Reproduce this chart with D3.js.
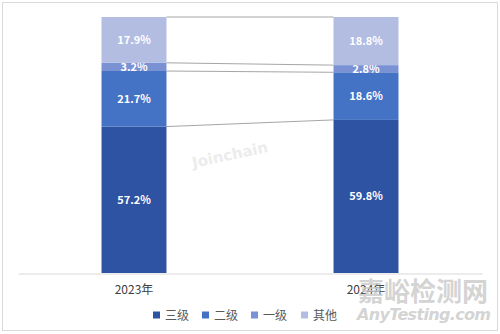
<!DOCTYPE html>
<html><head><meta charset="utf-8">
<script src="https://cdn.jsdelivr.net/npm/d3@7"></script>
<style>html,body{margin:0;padding:0;background:#fff;}svg{display:block;}</style>
</head><body>
<svg id="chart" width="500" height="334"></svg>
<script>
const categories = ["2023年", "2024年"];
const seriesNames = ["三级", "二级", "一级", "其他"];
const values三级 = [57.2, 59.8];
const values二级 = [21.7, 18.6];
const values一级 = [3.2, 2.8];
const values其他 = [17.9, 18.8];
const seriesValues = [values三级, values二级, values一级, values其他];
const colors = ["#2E53A2", "#4472C4", "#7A92D4", "#B3BDE1"];

const svg = d3.select("#chart");
const font = "'Microsoft YaHei','Noto Sans CJK SC','DejaVu Sans',sans-serif";

// outer border
svg.append("rect").attr("x", 2.5).attr("y", 2.5).attr("width", 495).attr("height", 328)
  .attr("fill", "#fff").attr("stroke", "#d9d9d9").attr("stroke-width", 1);

const rows = categories.map((c, i) => {
  const r = {cat: c};
  seriesNames.forEach((s, j) => r[s] = seriesValues[j][i]);
  return r;
});
const stacked = d3.stack().keys(seriesNames)(rows);

const x = d3.scaleBand().domain(categories).range([18, 482]).paddingInner(0.72).paddingOuter(0.36);
const y = d3.scaleLinear().domain([0, 100]).range([273, 17]);

// watermark Joinchain
svg.append("text").attr("x", 230).attr("y", 160).attr("text-anchor", "middle")
  .attr("transform", "rotate(-12,230,155)")
  .attr("font-family", "'DejaVu Sans',sans-serif").attr("font-weight", "bold").attr("font-size", 15)
  .attr("fill", "#ececec").text("Joinchain");

// series lines
seriesNames.forEach((s, j) => {
  const layer = stacked[j];
  svg.append("line")
    .attr("x1", x(categories[0]) + x.bandwidth()).attr("y1", y(layer[0][1]))
    .attr("x2", x(categories[1])).attr("y2", y(layer[1][1]))
    .attr("stroke", "#a6a6a6").attr("stroke-width", 1);
});

// bars
stacked.forEach((layer, j) => {
  svg.append("g").selectAll("rect").data(layer).join("rect")
    .attr("x", d => x(d.data.cat))
    .attr("y", d => y(d[1]))
    .attr("width", x.bandwidth())
    .attr("height", d => y(d[0]) - y(d[1]))
    .attr("fill", colors[j]);
  svg.append("g").selectAll("text").data(layer).join("text")
    .attr("x", d => x(d.data.cat) + x.bandwidth() / 2)
    .attr("y", d => (y(d[0]) + y(d[1])) / 2 + 4)
    .attr("text-anchor", "middle")
    .attr("font-family", font).attr("font-weight", "bold").attr("font-size", 11)
    .attr("fill", "#fff")
    .text(d => (d[1] - d[0]).toFixed(1) + "%");
});

// axis
const xAxis = d3.axisBottom(x).tickSize(0).tickPadding(12);
const ag = svg.append("g").attr("transform", "translate(0,273.5)").call(xAxis);
ag.select(".domain").attr("stroke", "#d9d9d9").attr("stroke-width", 1.2);
ag.selectAll("text").attr("font-family", font).attr("font-size", 12).attr("fill", "#404040");

// legend
const legendX = [153, 202, 251, 301];
const lg = svg.append("g");
seriesNames.forEach((s, j) => {
  lg.append("rect").attr("x", legendX[j]).attr("y", 311.5).attr("width", 7).attr("height", 7).attr("fill", colors[j]);
  lg.append("text").attr("x", legendX[j] + 12).attr("y", 319.5)
    .attr("font-family", font).attr("font-size", 12).attr("fill", "#595959").text(s);
});

// site watermark
svg.append("text").attr("x", 358).attr("y", 301).attr("font-family", font).attr("font-weight", "bold")
  .attr("font-size", 26).attr("fill", "#c8c8c8").attr("fill-opacity", 0.8).attr("textLength", 130).text("嘉峪检测网");
svg.append("text").attr("x", 357).attr("y", 320).attr("font-family", "'DejaVu Sans',sans-serif").attr("font-weight", "bold")
  .attr("font-style", "italic").attr("font-size", 16).attr("fill", "#c8c8c8").attr("fill-opacity", 0.8)
  .attr("textLength", 134).text("AnyTesting.com");
</script>
</body></html>
